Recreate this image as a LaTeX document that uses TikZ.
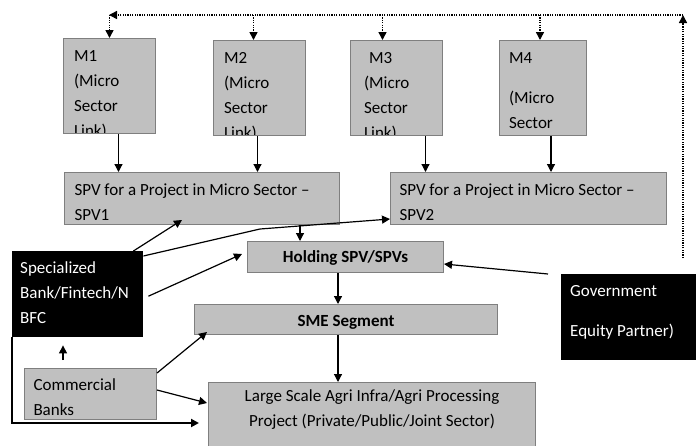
\documentclass[tikz,border=0pt]{standalone}
\usepackage{fontspec}
\setmainfont{Carlito}
\usepackage{tikz}
\usetikzlibrary{arrows.meta}
\definecolor{cbox}{HTML}{C0C0C0}
\definecolor{cedge}{HTML}{7F7F7F}
\tikzset{>={Triangle[length=8pt,width=8pt]}}
\newcommand{\mtext}[2]{\node[anchor=base west,draw=none,fill=none,inner sep=0pt,minimum width=0pt,minimum height=0pt,text width=80pt,align=flush left] at ([xshift=#1,yshift=-23pt]path picture bounding box.north west) {#2};}

\begin{document}
\begin{tikzpicture}[x=1pt,y=-1pt,font=\fontsize{17}{25}\selectfont,
  mbox/.style={draw=cedge,fill=cbox,line width=1pt,anchor=north west,inner sep=0pt,minimum height=95pt},
  gbox/.style={draw=cedge,fill=cbox,line width=1pt,anchor=north west,inner xsep=10pt,inner ysep=0pt},
  kbox/.style={fill=black,text=white,anchor=north west,inner xsep=8pt,inner ysep=0pt,align=flush left},
  link/.style={->,line width=1.2pt},
  back/.style={->,line width=1.5pt,dash pattern=on 1.2pt off 1.2pt}]
\useasboundingbox (0,0) rectangle (696,445);

% ===== micro sector links =====
\node[mbox,minimum width=92pt,path picture={\mtext{10pt}{M1\\(Micro\\Sector\\Link)}}] (m1) at (63,38) {};
\node[mbox,minimum width=92pt,path picture={\mtext{10pt}{M2\\(Micro\\Sector\\Link)}}] (m2) at (213,40) {};
\node[mbox,minimum width=92pt,path picture={\mtext{13pt}{\hspace*{5pt}M3\\(Micro\\Sector\\Link)}}] (m3) at (350,40) {};
\node[mbox,minimum width=87pt,path picture={\mtext{9pt}{M4\\[15pt](Micro\\Sector\\Link)}}] (m4) at (499,40) {};

% ===== project SPVs =====
\node[gbox,text width=255pt,text height=23pt,text depth=29pt,align=flush left] (spv1) at (64,172) {SPV for a Project in Micro Sector –\\SPV1};
\node[gbox,inner xsep=9pt,text width=258pt,text height=23pt,text depth=29pt,align=flush left] (spv2) at (390,172) {SPV for a Project in Micro Sector –\\SPV2};
\node[gbox,text width=176pt,text height=21pt,text depth=10pt,align=flush center] (hold) at (247,241) {\bfseries Holding SPV/SPVs};
\node[gbox,text width=283pt,text height=22pt,text depth=8pt,align=flush center] (sme) at (194,304) {\bfseries SME Segment};
\node[gbox,text width=307pt,text height=19pt,text depth=45pt,align=flush center] (large) at (208,382) {Large Scale Agri Infra/Agri Processing\\Project (Private/Public/Joint Sector)};

% ===== lenders and partners =====
\node[kbox,text width=115pt,text height=22pt,text depth=64pt] (spec) at (12,251) {Specialized\\Bank/Fintech/N\\BFC};
\node[kbox,inner xsep=9pt,text width=122pt,text height=22pt,text depth=64pt] (gov) at (561,274) {Government\\[15pt]Equity Partner)};
\node[gbox,inner xsep=9pt,text width=114pt,text height=22pt,text depth=29pt,align=flush left] (comm) at (24,368) {Commercial\\Banks};

% ===== flows =====
\foreach \m/\s/\dx in {m1/spv1/9, m2/spv1/-2, m3/spv2/29, m4/spv2/8}
  \draw[link] ([xshift=\dx pt]\m.south) -- ([xshift=\dx pt]\m.south |- \s.north);
\draw[link] ([xshift=236pt]spv1.south west) -- ([xshift=53pt]hold.north west);
\draw[link] ([xshift=91pt]hold.south west) -- ([xshift=144pt]sme.north west);
\draw[link] ([xshift=144pt]sme.south west) -- ([xshift=130pt]large.north west);

\coordinate (kink) at (260,229);
\draw[link] ([xshift=-10pt]spec.north east) -- ([xshift=118pt,yshift=5pt]spv1.south west);
\draw[link] ([yshift=-5pt]spec.north east) -- (kink) -- ([yshift=6pt]spv2.south west);
\draw[link] ([xshift=5pt,yshift=-2pt]spec.east) -- ([xshift=-5pt,yshift=3pt]hold.west);
\draw[link] ([xshift=-13pt]gov.north west) -- ([yshift=-7pt]hold.east);
\draw[link,line width=2.4pt] (spec.south west) |- ([xshift=-9pt,yshift=-41pt]large.north west);

\draw[link] ([xshift=39pt,yshift=8pt]comm.north west) -- ([xshift=51pt,yshift=-8pt]spec.south west);
\draw[link] ([yshift=-5pt]comm.north east) -- ([xshift=13pt,yshift=3pt]sme.south west);
\draw[link] ([yshift=4pt]comm.east) -- ([xshift=-1pt,yshift=-21pt]large.north west);

% ===== dotted feedback to the links =====
\coordinate (fbin) at (683,258);
\coordinate (fbtop) at (683,15);
\coordinate (fbend) at (109,15);
\draw[back] (fbin) -- (fbtop);
\draw[back] (fbtop) -- (fbend);
\foreach \m/\dx in {m1/0, m2/-6, m3/-14, m4/-3}
  \draw[back] ([xshift=\dx pt]\m.north |- fbtop) -- ([xshift=\dx pt]\m.north);

\end{tikzpicture}
\end{document}
